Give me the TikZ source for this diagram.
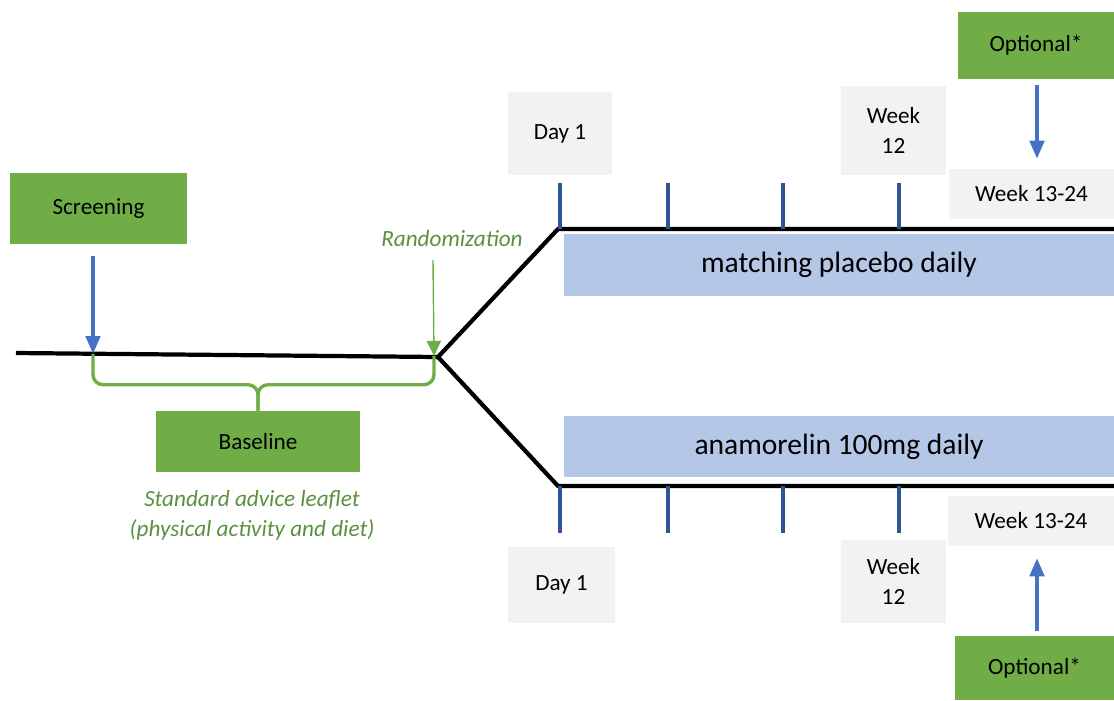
\documentclass[tikz,border=0pt]{standalone}
\usepackage{fontspec}
\setmainfont{Carlito}
\usetikzlibrary{arrows.meta,calc,positioning}
\definecolor{boxgreen}{HTML}{70AD47}
\definecolor{textgreen}{HTML}{5A9040}
\definecolor{boxgrey}{HTML}{F2F2F2}
\definecolor{barblue}{HTML}{B4C7E7}
\definecolor{tickblue}{HTML}{2F5597}
\definecolor{arrowblue}{HTML}{4472C4}
\tikzset{
  greenbox/.style={
    shape = rectangle,
    fill = boxgreen,
    inner sep = 0pt,
    font = \fontsize{16.5}{21}\selectfont
  },
  greybox/.style={
    shape = rectangle,
    fill = boxgrey,
    inner sep = 0pt,
    align = center,
    font = \fontsize{16.5}{21.5}\selectfont
  },
  armbar/.style={
    shape = rectangle,
    fill = barblue,
    inner sep = 0pt,
    minimum width = 13.75cm,
    font = \fontsize{21}{24}\selectfont
  },
  note/.style={
    text = textgreen,
    align = center,
    font = \fontsize{16.5}{21.3}\selectfont\itshape
  },
}
\tikzset{
  timeline/.style={
    line width = 3pt,
    line join = miter
  },
  tickmark/.style={
    draw = tickblue,
    line width = 2.4pt
  },
  visit/.style={
    draw = arrowblue,
    line width = 2.6pt,
    -{Triangle[width=0.36cm,length=0.45cm]}
  },
  randarrow/.style={
    draw = boxgreen,
    line width = 1pt,
    -{Triangle[width=0.36cm,length=0.38cm]}
  },
  brace/.style={
    draw = boxgreen,
    line width = 2.4pt,
    rounded corners = 0.25cm
  },
}

\begin{document}
\begin{tikzpicture}[x=0.025cm, y=-0.025cm]
\useasboundingbox (0,0) rectangle (1114,700);
\coordinate (start) at (16,353);
\coordinate (split) at (438,357);
\coordinate (upc) at (558,229);
\coordinate (lowc) at (558,486);
\coordinate (upend) at (1114,229);
\coordinate (lowend) at (1114,486);
\coordinate (scrpt) at (93,354);
\coordinate (randpt) at (434,356);
\draw[timeline] (start) -- (split) -- (upc) -- (upend);
\draw[timeline] (split) -- (lowc) -- (lowend);
		  \foreach \x in {560,668,783,899}{
		    \draw[tickmark] (\x,183) -- (\x,229);
		    \draw[tickmark] (\x,486) -- (\x,533); }
\node[greenbox, minimum width=4.425cm, minimum height=1.775cm] (screen) at (98.5,208.5) {Screening};
\draw[visit] ([yshift=-0.3cm]screen.south -| scrpt) -- (scrpt);
\node[note] (rand) at (452,239) {Randomization};
\draw[randarrow] (433,260) -- (randpt);
\node[greenbox, minimum width=5.1cm, minimum height=1.525cm] (base) at (258,441.5) {Baseline};
\draw[brace] (scrpt) |- ($(base.north)+(0,-26)$) -- (base.north);
\draw[brace] (randpt) |- ($(base.north)+(0,-26)$) -- (base.north);
\node[note] (leaflet) at (252,515) {Standard advice leaflet\\(physical activity and diet)};
\node[armbar, minimum height=1.55cm] (placebo) at (839,265) {matching placebo daily};
\node[armbar, minimum height=1.525cm] (anam) at (839,446.5) {anamorelin 100mg daily};
\node[greybox, minimum width=2.6cm, minimum height=2.075cm] (dayup) at (560,133.5) {Day 1};
\node[greybox, minimum width=2.625cm, minimum height=2.225cm] (wkup) at (893.5,130.5) {Week\\12};
\node[greybox, minimum width=4.125cm, minimum height=1.25cm] (laterup) at (1031.5,194) {Week 13-24};
\node[greenbox, minimum width=3.9cm, minimum height=1.675cm] (optup) at (1036,45.5) {Optional*};
\draw[visit] ([yshift=-0.15cm]optup.south -| 1037,0) -- ([yshift=0.25cm]laterup.north -| 1037,0);
\node[greybox, minimum width=2.675cm, minimum height=1.9cm] (daylow) at (561.5,585) {Day 1};
\node[greybox, minimum width=2.625cm, minimum height=2.075cm] (wklow) at (893.5,581.5) {Week\\12};
\node[greybox, minimum width=4.15cm, minimum height=1.25cm] (laterlow) at (1031,521) {Week 13-24};
\node[greenbox, minimum width=3.975cm, minimum height=1.6cm] (optlow) at (1034.5,668) {Optional*};
\draw[visit] ([yshift=0.125cm]optlow.north -| 1037,0) -- ([yshift=-0.3cm]laterlow.south -| 1037,0);
\end{tikzpicture}
\end{document}
